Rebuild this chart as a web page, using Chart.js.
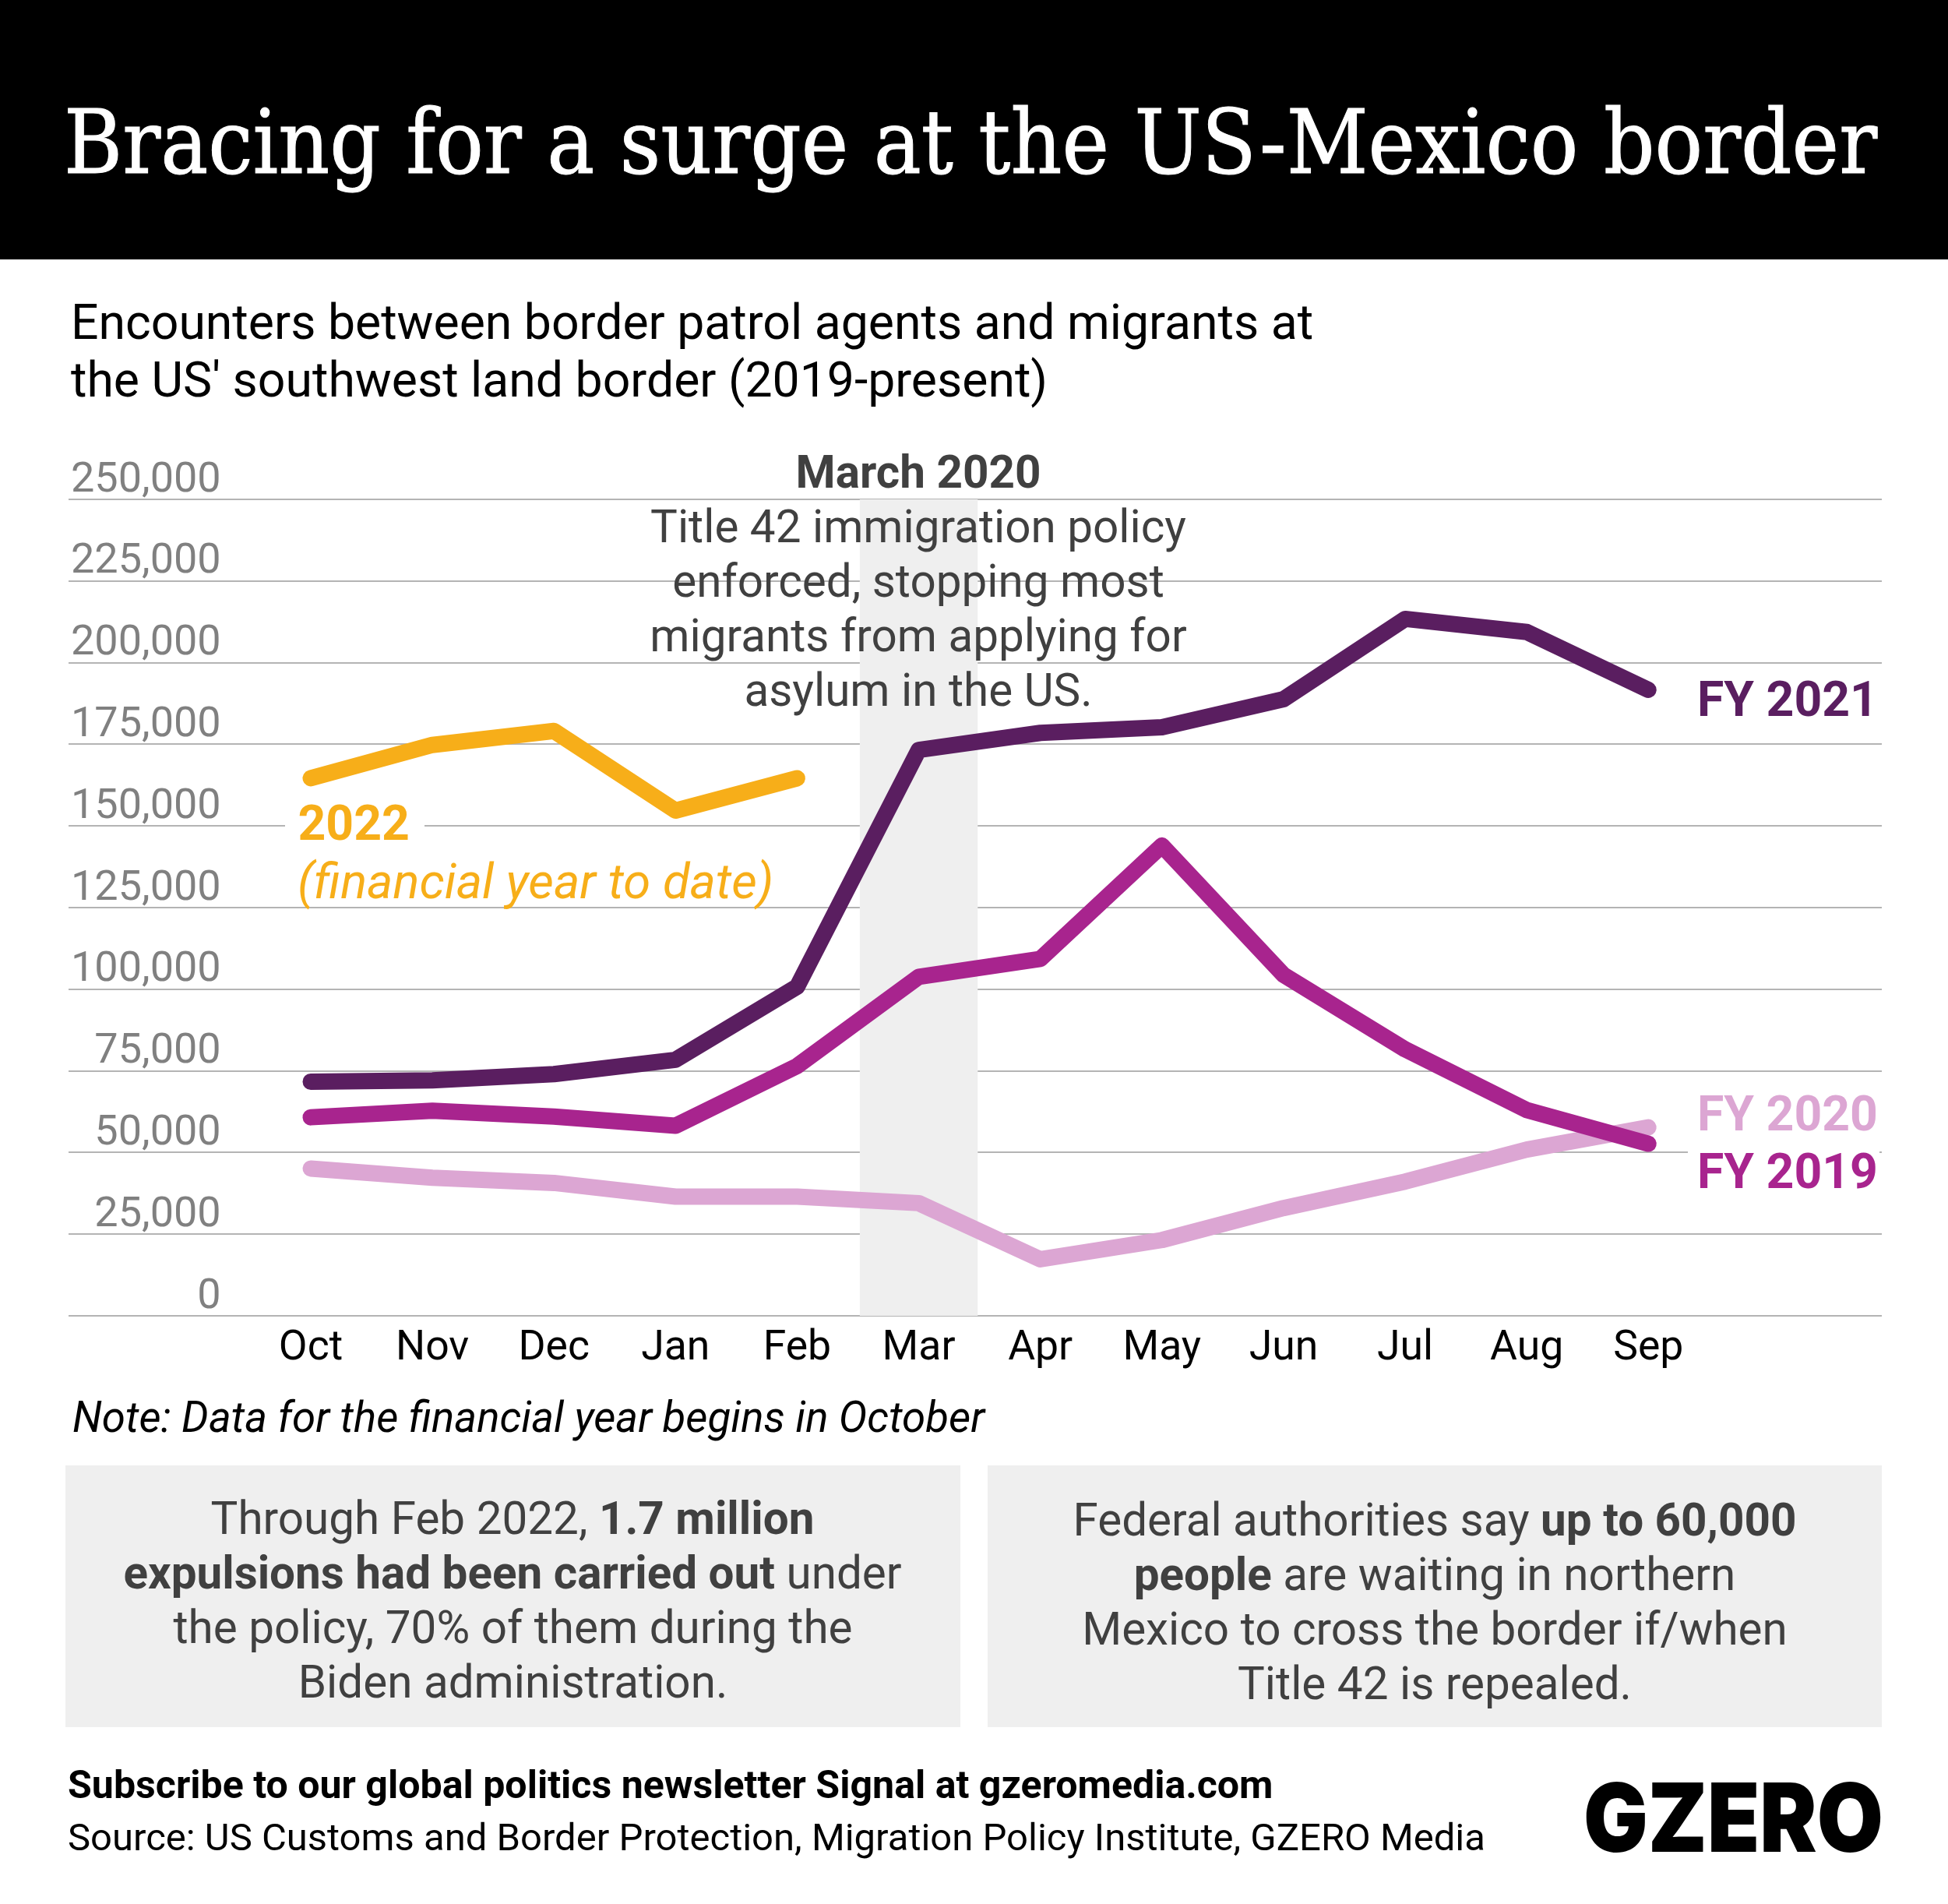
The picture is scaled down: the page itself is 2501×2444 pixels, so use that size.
<!DOCTYPE html>
<html>
<head>
<meta charset="utf-8">
<script src="https://cdn.jsdelivr.net/npm/chart.js@4"></script>
<style>
  html, body { margin: 0; padding: 0; background: #fff; }
  #page { position: relative; width: 2501px; height: 2444px; overflow: hidden; font-family: Roboto, sans-serif; }
  #header { position: absolute; left: 0; top: 0; width: 2501px; height: 333px; background: #000; }
  .box { position: absolute; top: 1881px; height: 336px; background: #efefef; }
  canvas { position: absolute; left: 0; top: 0; }
  .t { position: absolute; white-space: nowrap; line-height: 0; }
</style>
</head>
<body>
<div id="page">
  <div id="header"></div>
  <div class="box" style="left:84px;width:1149px"></div>
  <div class="box" style="left:1268px;width:1148px"></div>
  <canvas id="chart" width="2501" height="2444"></canvas>
</div>
<script>
const months = ['Oct', 'Nov', 'Dec', 'Jan', 'Feb', 'Mar', 'Apr', 'May', 'Jun', 'Jul', 'Aug', 'Sep'];
const fy2019 = [60800, 62800, 61000, 58200, 76500, 103800, 109300, 144000, 104400, 81600, 63000, 52700];
const fy2020 = [45100, 42300, 40700, 36500, 36500, 34500, 17300, 23200, 33000, 41100, 50900, 57700];
const fy2021 = [71700, 72100, 74000, 78400, 100800, 173300, 178500, 180200, 188800, 213400, 209400, 191700];
const fy2022 = [164600, 174800, 179100, 154700, 164600];
const title42Month = 5;

const purple = '#5a1e60', magenta = '#a8248e', pink = '#dca6d3', amber = '#f7ae19';

function toPoints(values) {
    return values.map((y, x) => ({ x, y }));
}

function line(label, values, color) {
    return {
        label,
        data: toPoints(values),
        borderColor: color,
        borderWidth: 21,
        borderCapStyle: 'round',
        borderJoinStyle: 'round',
        pointRadius: 0,
        tension: 0,
        fill: false
    };
}

// grey column behind the March 2020 policy change
const bandPlugin = {
    id: 'band',
    beforeDatasetsDraw(chart) {
        const { ctx, chartArea, scales } = chart;
        const left = scales.x.getPixelForValue(title42Month - 0.485);
        const right = scales.x.getPixelForValue(title42Month + 0.485);
        ctx.save();
        ctx.fillStyle = '#efefef';
        ctx.fillRect(left, chartArea.top, right - left, chartArea.bottom - chartArea.top);
        ctx.restore();
    }
};

new Chart(document.getElementById('chart').getContext('2d'), {
    type: 'line',
    data: {
        // first dataset ends up on top
        datasets: [
            line('2022', fy2022, amber),
            line('FY 2021', fy2021, purple),
            line('FY 2019', fy2019, magenta),
            line('FY 2020', fy2020, pink)
        ]
    },
    options: {
        responsive: false,
        animation: false,
        devicePixelRatio: 1,
        layout: { padding: { left: 88, right: 85, top: 641, bottom: 655 } },
        plugins: { legend: { display: false }, tooltip: { enabled: false } },
        scales: {
            x: {
                type: 'linear',
                min: -1.992,
                max: 12.92,
                afterBuildTicks(scale) {
                    scale.ticks = months.map((m, i) => ({ value: i }));
                },
                afterFit(scale) { scale.height = 100; },
                grid: { display: false },
                border: { display: false },
                ticks: {
                    autoSkip: false,
                    maxRotation: 0,
                    padding: 3,
                    color: '#000',
                    font: { family: 'Roboto', size: 53.5 },
                    callback: value => months[value]
                }
            },
            y: {
                min: 0,
                max: 250000,
                afterFit(scale) { scale.width = 0; },
                grid: { color: '#b4b4b4', lineWidth: 2, drawTicks: false },
                border: { display: false },
                ticks: {
                    stepSize: 25000,
                    mirror: true,
                    crossAlign: 'far',
                    padding: 3,
                    labelOffset: -24,
                    color: '#808080',
                    font: { family: 'Roboto', size: 54 },
                    callback: value => value.toLocaleString('en-US')
                }
            }
        }
    },
    plugins: [bandPlugin]
});

const page = document.getElementById('page');

// one line of text, placed by its baseline
function text(html, x, baseline, size, color, extra) {
    const el = document.createElement('div');
    el.className = 't';
    el.innerHTML = html;
    el.style.left = x + 'px';
    el.style.top = (baseline - 0.34 * size) + 'px';
    el.style.fontSize = size + 'px';
    el.style.color = color;
    Object.assign(el.style, extra || {});
    page.appendChild(el);
    return el;
}

const center = { transform: 'translateX(-50%)' };
const dark = '#404040';

text('Bracing for a surge at the US-Mexico border', 82, 222, 113.8, '#fff',
    { fontFamily: '"DejaVu Serif Condensed", "DejaVu Serif", serif', webkitTextStroke: '1px #fff' });

text('Encounters between border patrol agents and migrants at', 91, 435.5, 62.5, '#000');
text("the US' southwest land border (2019-present)", 91, 509.5, 62.5, '#000');

text('<b>March 2020</b>', 1179, 626, 58.4, dark, center);
text('Title 42 immigration policy', 1179, 695.5, 58.4, dark, center);
text('enforced, stopping most', 1179, 765.5, 58.4, dark, center);
text('migrants from applying for', 1179, 835.5, 58.4, dark, center);
text('asylum in the US.', 1179, 905.5, 58.4, dark, center);

const knock = document.createElement('div');
knock.style.cssText = 'position:absolute;left:366px;top:1050px;width:179px;height:20px;background:#fff';
page.appendChild(knock);
const knock2 = document.createElement('div');
knock2.style.cssText = 'position:absolute;left:2167px;top:1470px;width:246px;height:20px;background:#fff';
page.appendChild(knock2);

text('<b>2022</b>', 382.5, 1078, 62.5, amber);
text('<i>(financial year to date)</i>', 382, 1153, 63.4, amber);
text('<b>FY 2021</b>', 2179, 919.5, 62.5, purple);
text('<b>FY 2020</b>', 2179, 1451, 62.5, pink);
text('<b>FY 2019</b>', 2179, 1525.5, 62.5, magenta);

text('<i>Note: Data for the financial year begins in October</i>', 93, 1838, 54.7, '#000');

text('Through Feb 2022, <b>1.7 million</b>', 658, 1969, 58.4, dark, center);
text('<b>expulsions had been carried out</b> under', 658, 2039, 58.4, dark, center);
text('the policy, 70% of them during the', 658.5, 2109, 58.4, dark, center);
text('Biden administration.', 658.5, 2179, 58.4, dark, center);

text('Federal authorities say <b>up to 60,000</b>', 1842, 1971, 58.4, dark, center);
text('<b>people</b> are waiting in northern', 1842, 2041, 58.4, dark, center);
text('Mexico to cross the border if/when', 1842, 2111, 58.4, dark, center);
text('Title 42 is repealed.', 1842, 2181, 58.4, dark, center);

text('<b>Subscribe to our global politics newsletter Signal at gzeromedia.com</b>', 87, 2308, 50.1, '#000');
text('Source: US Customs and Border Protection, Migration Policy Institute, GZERO Media', 87, 2376, 49, '#000');

text('GZERO', 2033, 2374, 122, '#000',
    { fontFamily: 'Inter, sans-serif', fontWeight: 900, transform: 'scaleX(0.9)', transformOrigin: 'left center' });
</script>
</body>
</html>
